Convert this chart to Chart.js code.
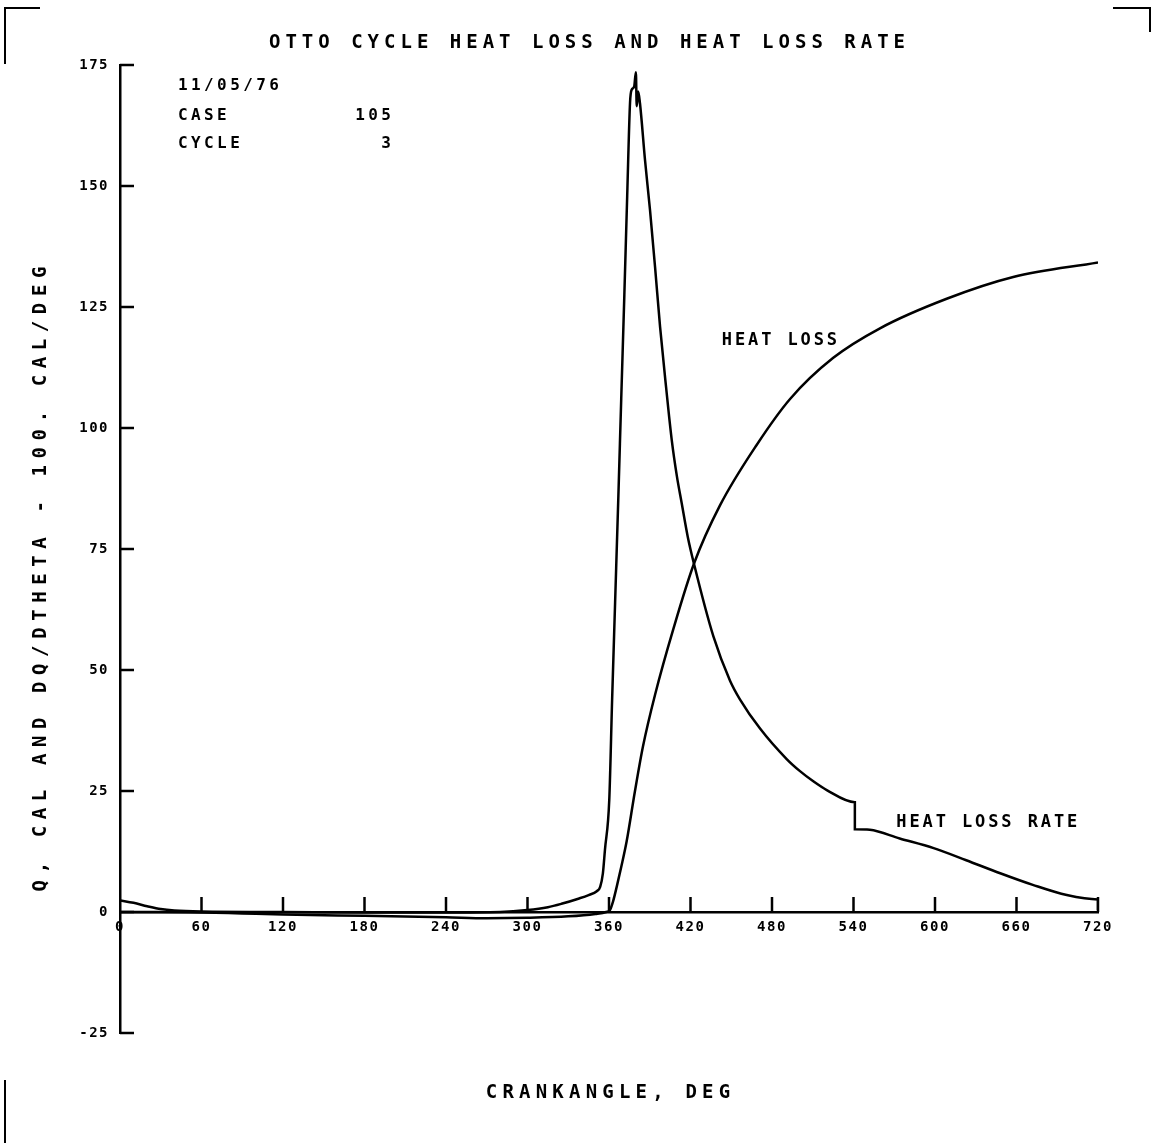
<!DOCTYPE html>
<html>
<head>
<meta charset="utf-8">
<script src="https://cdn.jsdelivr.net/npm/chart.js@4/dist/chart.umd.min.js"></script>
<style>
html,body{margin:0;padding:0;background:#fff;}
#wrap{width:1153px;height:1143px;position:relative;}
</style>
</head>
<body>
<div id="wrap"><canvas id="c" width="1153" height="1143"></canvas></div>
<script>
// ---- data ----
const rateTheta  = [0,10,20,30,40,60,120,180,240,280,300,315,325,338,345,351,353.5,355.5,357,360.2,362.3,364.5,366.8,369,371.3,373.4,375.5,376.7,378.5,379.8,380.4,381.5,382.8,386.5,390.2,393.9,397.6,402,406.2,410,413.5,418,422.6,436.8,449.1,456.5,471.2,490.8,500.6,510.4,520.3,541,541,552,574,599,623,648,672,697,720,720];
const rateValues = [2.4,1.9,1.2,0.6,0.3,0.1,0,-0.1,-0.1,0,0.4,1.0,1.7,2.8,3.5,4.3,5.2,8.0,12.8,23.2,43.9,64.0,85.0,106.0,127.5,148.0,167.3,169.9,170.5,173.5,166.5,169.5,167.1,155.4,145.0,133.3,120.9,108.5,97.5,90.0,84.5,77.5,71.9,57.0,47.8,43.9,37.9,31.6,29.1,27.0,25.2,22.7,17.1,17.0,15.2,13.2,10.7,8.0,5.6,3.5,2.6,0.4];

const lossTheta  = [0,30,60,90,120,180,240,270,300,330,350,358,360.7,363,366,369,373,379,385,394,407.4,422.6,441.7,468.7,493.3,525.1,559.5,608.6,657.6,720];
const lossValues = [0,0,-0.1,-0.3,-0.5,-0.8,-1.1,-1.3,-1.2,-0.9,-0.4,0,0.4,2.2,5.6,9.3,14.6,24.8,34.2,45.0,58.5,72.0,84.0,96.5,106.0,114.5,120.6,126.7,131.2,134.2];

const xTickValues = [0,60,120,180,240,300,360,420,480,540,600,660,720];
const yTickValues = [-25,0,25,50,75,100,125,150,175];

const titleText = 'OTTO CYCLE HEAT LOSS AND HEAT LOSS RATE';
const xTitleText = 'CRANKANGLE, DEG';
const yTitleText = 'Q, CAL AND DQ/DTHETA - 100. CAL/DEG';
const infoLabels = ['11/05/76', 'CASE', 'CYCLE'];
const infoValues = ['', '105', '3'];
const seriesNames = ['HEAT LOSS', 'HEAT LOSS RATE'];
// label anchors in data units [theta, value]
const seriesLabelAnchors = [[443, 118], [571.5, 18.4]];

// ---- helpers ----
const pts = (xs, ys) => xs.map((x, i) => ({x: x, y: ys[i]}));
const FONT = '"DejaVu Sans Mono", "Liberation Mono", monospace';

function spacedText(ctx, text, x, y, font, spacing, align) {
  ctx.save();
  ctx.font = font;
  ctx.letterSpacing = spacing + 'px';
  ctx.fillStyle = '#000';
  ctx.textBaseline = 'middle';
  let w = ctx.measureText(text).width;
  let sx = x;
  if (align === 'center') sx = x - (w - spacing) / 2;
  else if (align === 'right') sx = x - (w - spacing);
  ctx.textAlign = 'left';
  ctx.fillText(text, sx, y);
  ctx.restore();
}

const decorPlugin = {
  id: 'decor',
  beforeDraw(chart) {
    chart.ctx.letterSpacing = '1.5px';
  },
  afterDraw(chart) {
    const ctx = chart.ctx;
    const xs = chart.scales.x, ys = chart.scales.y;
    const area = chart.chartArea;
    ctx.save();
    ctx.letterSpacing = '0px';
    ctx.strokeStyle = '#000';
    ctx.lineWidth = 2.5;
    ctx.lineCap = 'butt';
    // inward tick marks on y axis
    yTickValues.forEach(v => {
      const py = ys.getPixelForValue(v);
      ctx.beginPath();
      ctx.moveTo(area.left, py);
      ctx.lineTo(area.left + 14, py);
      ctx.stroke();
    });
    // upward tick marks on x axis (drawn at y = 0)
    const y0 = ys.getPixelForValue(0);
    xTickValues.forEach(v => {
      if (v === 0) return;
      const px = xs.getPixelForValue(v);
      ctx.beginPath();
      ctx.moveTo(px, y0);
      ctx.lineTo(px, y0 - 15);
      ctx.stroke();
    });
    // page frame corner marks
    ctx.lineWidth = 2;
    ctx.beginPath();
    ctx.moveTo(5, 64); ctx.lineTo(5, 8); ctx.lineTo(40, 8);
    ctx.moveTo(1113, 8); ctx.lineTo(1150, 8); ctx.lineTo(1150, 32);
    ctx.moveTo(5, 1080); ctx.lineTo(5, 1143);
    ctx.stroke();
    ctx.restore();

    // title
    spacedText(ctx, titleText, 587, 43, 'bold 19px ' + FONT, 5, 'center');
    // x title
    spacedText(ctx, xTitleText, 608, 1093, 'bold 19px ' + FONT, 5.2, 'center');
    // y title (rotated)
    ctx.save();
    ctx.translate(41, 579);
    ctx.rotate(-Math.PI / 2);
    spacedText(ctx, yTitleText, 0, 0, 'bold 19px ' + FONT, 6.6, 'center');
    ctx.restore();
    // info block
    const infoY = [85.5, 116, 144];
    infoLabels.forEach((t, i) => {
      spacedText(ctx, t, 178, infoY[i], 'bold 16px ' + FONT, 3.4, 'left');
      if (infoValues[i]) spacedText(ctx, infoValues[i], 391, infoY[i], 'bold 16px ' + FONT, 3.4, 'right');
    });
    // series labels
    seriesNames.forEach((t, i) => {
      const a = seriesLabelAnchors[i];
      spacedText(ctx, t, xs.getPixelForValue(a[0]), ys.getPixelForValue(a[1]), 'bold 17px ' + FONT, 2.9, 'left');
    });
  }
};

const tickFont = {family: FONT, size: 14, weight: 'bold'};

new Chart(document.getElementById('c'), {
  type: 'line',
  data: {
    datasets: [
      {label: seriesNames[0], data: pts(lossTheta, lossValues), borderColor: '#000', borderWidth: 2.5, pointRadius: 0, cubicInterpolationMode: 'monotone', fill: false},
      {label: seriesNames[1], data: pts(rateTheta, rateValues), borderColor: '#000', borderWidth: 2.5, pointRadius: 0, cubicInterpolationMode: 'monotone', fill: false}
    ]
  },
  options: {
    responsive: false,
    animation: false,
    devicePixelRatio: 1,
    layout: {padding: {left: 60, right: 55, top: 65, bottom: 110}},
    plugins: {legend: {display: false}, tooltip: {enabled: false}, title: {display: false}},
    scales: {
      x: {
        type: 'linear',
        position: {y: 0},
        min: 0, max: 720,
        afterBuildTicks: s => { s.ticks = xTickValues.map(v => ({value: v})); },
        ticks: {color: '#000', font: tickFont, padding: 7, maxRotation: 0, autoSkip: false},
        grid: {display: false, drawTicks: false},
        border: {display: true, color: '#000', width: 2.5}
      },
      y: {
        type: 'linear',
        position: 'left',
        min: -25, max: 175,
        afterBuildTicks: s => { s.ticks = yTickValues.map(v => ({value: v})); },
        afterFit: s => { s.width = 60; },
        ticks: {color: '#000', font: tickFont, padding: 11, autoSkip: false},
        grid: {display: false, drawTicks: false},
        border: {display: true, color: '#000', width: 2.5}
      }
    }
  },
  plugins: [decorPlugin]
});
</script>
</body>
</html>
